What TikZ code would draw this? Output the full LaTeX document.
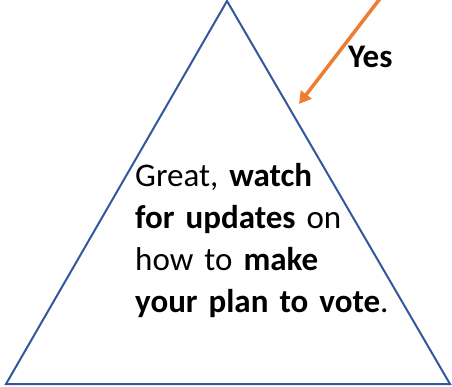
\documentclass[tikz,border=0pt]{standalone}
\usepackage{fontspec}
\setmainfont{Carlito}
\usetikzlibrary{arrows.meta}
\definecolor{triblue}{RGB}{50,88,155}
\definecolor{arroworange}{RGB}{237,125,49}
\tikzset{
  tri/.style={draw=triblue, line width=2pt, line join=miter},
  yesarrow/.style={draw=arroworange, line width=3.5pt, -{Triangle[length=12pt,width=13pt]}},
  bodytext/.style={font=\fontsize{33}{42}\selectfont, align=left, anchor=north west, inner sep=0pt, text width=300pt},
  yeslabel/.style={font=\fontsize{33}{40}\selectfont\bfseries, anchor=base west, inner sep=0pt}
}
\begin{document}
\begin{tikzpicture}[x=1pt,y=-1pt]
\useasboundingbox (0,0) rectangle (452,387);
\coordinate (apex) at (227,1);
\coordinate (bl) at (6,384);
\coordinate (br) at (450,384);
\draw[tri] (apex) -- (bl) -- (br) -- cycle;
\coordinate (astart) at (382,-4);
\coordinate (atip) at (299,104);
\draw[yesarrow] (astart) -- (atip);
\node[yeslabel] (yes) at (348,68) {Yes};
\node[bodytext] (msg) at (135,163) {Great, \textbf{watch}\\\textbf{for updates} on\\how to \textbf{make}\\\textbf{your plan to vote}.};
\end{tikzpicture}
\end{document}
